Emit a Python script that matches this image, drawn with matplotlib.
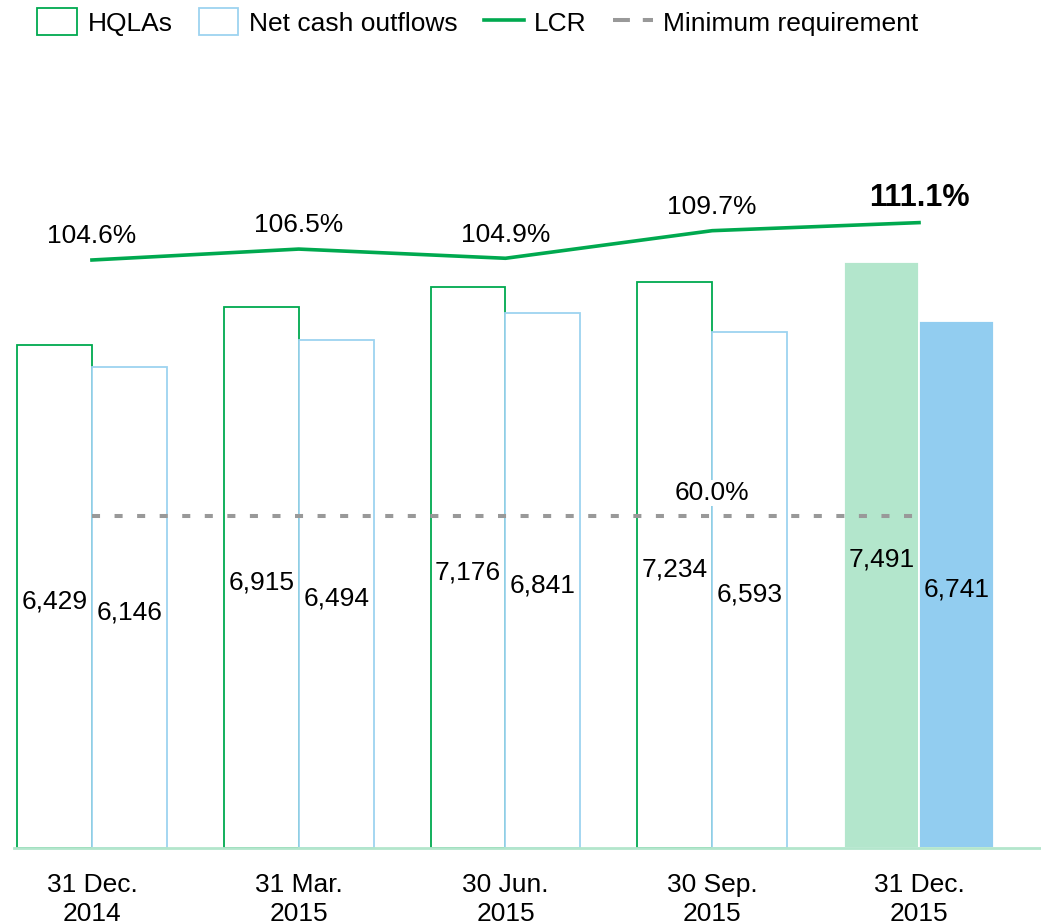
import matplotlib
matplotlib.use("Agg")
import matplotlib.pyplot as plt
from matplotlib.patches import Patch
from matplotlib.lines import Line2D
import numpy as np

plt.rcParams['font.family'] = ['Liberation Sans', 'DejaVu Sans']

periods = ['31 Dec.\n2014', '31 Mar.\n2015', '30 Jun.\n2015', '30 Sep.\n2015', '31 Dec.\n2015']
hqla = [6429, 6915, 7176, 7234, 7491]
outflows = [6146, 6494, 6841, 6593, 6741]
lcr = [104.6, 106.5, 104.9, 109.7, 111.1]
min_req = [60.0, 60.0, 60.0, 60.0, 60.0]

green = '#00a94f'
light_blue = '#9dd3f0'
fill_green = '#b3e6cc'
fill_blue = '#92cdf0'
grey = '#999999'

fig = plt.figure(figsize=(10.41, 9.24), dpi=100)
ax = fig.add_axes([14/1041, 76/924, 1027/1041, 698/924])
x = np.arange(len(periods))
w = 0.362

n = len(periods)
for i in range(n):
    last = i == n - 1
    ax.bar(x[i] - w/2, hqla[i], w,
           facecolor=fill_green if last else 'white',
           edgecolor='white' if last else green, linewidth=1.3)
    ax.bar(x[i] + w/2, outflows[i], w,
           facecolor=fill_blue if last else 'white',
           edgecolor='white' if last else light_blue, linewidth=1.3)
    ax.text(x[i] - w/2, hqla[i]/2 - 60, f'{hqla[i]:,}', ha='center', va='center', fontsize=19)
    ax.text(x[i] + w/2, outflows[i]/2 - 60, f'{outflows[i]:,}', ha='center', va='center', fontsize=19)

ax.set_xlim(-0.377, 4.59)
ax.set_ylim(0, 8926)
for s in ['top', 'right', 'left']:
    ax.spines[s].set_visible(False)
ax.spines['bottom'].set_color('#b3e6cc')
ax.spines['bottom'].set_linewidth(2)
ax.set_yticks([])
ax.set_xticks(x)
ax.set_xticklabels(periods, fontsize=19, linespacing=1.25)
ax.tick_params(axis='x', length=0, pad=18)

ax2 = ax.twinx()
ax2.set_ylim(2.34, 123.73)
ax2.set_yticks([])
for s in ax2.spines.values():
    s.set_visible(False)
ax2.plot(x, min_req, color=grey, linewidth=2.9, linestyle=(0, (2.0, 3.6)))
ax2.plot(x, lcr, color=green, linewidth=2.6)
for i in range(n):
    last = i == n - 1
    ax2.annotate(f'{lcr[i]:.1f}%', (x[i], lcr[i]), xytext=(0, 18 if last else 17),
                 textcoords='offset points', ha='center', va='center',
                 fontsize=22 if last else 19, fontweight='bold' if last else 'normal')
ax2.annotate(f'{min_req[3]:.1f}%', (x[3], min_req[3]), xytext=(0, 17),
             textcoords='offset points', ha='center', va='center', fontsize=19,
             bbox=dict(facecolor='white', edgecolor='none', pad=1))

handles = [Patch(facecolor='white', edgecolor=green, linewidth=1.3),
           Patch(facecolor='white', edgecolor=light_blue, linewidth=1.3),
           Line2D([], [], color=green, linewidth=2.6),
           Line2D([], [], color=grey, linewidth=2.9, linestyle=(0, (4.2, 3.2)))]
fig.legend(handles, ['HQLAs', 'Net cash outflows', 'LCR', 'Minimum requirement'],
           loc='center', bbox_to_anchor=(478/1041, 1 - 22/924), ncol=4, frameon=False,
           fontsize=19, handlelength=1.5, handleheight=1.2, handletextpad=0.4,
           columnspacing=1.0)

fig.savefig('out.png', dpi=100)
